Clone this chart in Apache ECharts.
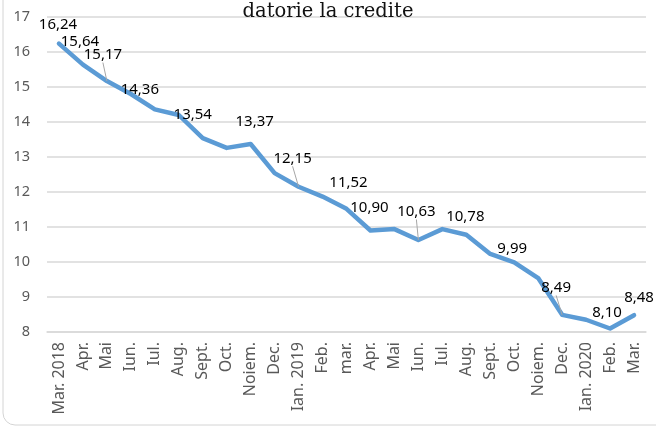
<!DOCTYPE html>
<html>
<head>
<meta charset="utf-8">
<script src="https://cdn.jsdelivr.net/npm/echarts@6/dist/echarts.min.js"></script>
<style>
html, body { margin: 0; padding: 0; background: #fff; }
#chart { width: 656px; height: 428px; }
</style>
</head>
<body>
<div id="chart"></div>
<script>
// luni (axa X)
const months = ['Mar. 2018', 'Apr.', 'Mai', 'Iun.', 'Iul.', 'Aug.', 'Sept.', 'Oct.', 'Noiem.', 'Dec.',
    'Ian. 2019', 'Feb.', 'mar.', 'Apr.', 'Mai', 'Iun.', 'Iul.', 'Aug.', 'Sept.', 'Oct.', 'Noiem.', 'Dec.',
    'Ian. 2020', 'Feb.', 'Mar.'];
// valori
const values = [16.24, 15.64, 15.17, 14.80, 14.36, 14.20, 13.54, 13.26, 13.37, 12.54,
    12.15, 11.87, 11.52, 10.90, 10.94, 10.63, 10.94, 10.78, 10.23, 9.99, 9.54, 8.49,
    8.35, 8.10, 8.48];
// etichete afisate (index -> deplasare eticheta)
const labelOffsets = {
    0: [-1, -19], 1: [-3, -23], 2: [-4, -26], 4: [-15, -20], 6: [-10, -23], 8: [4, -22],
    10: [-6, -28], 12: [2, -26], 13: [-1, -23], 15: [-2, -28], 17: [-1, -18], 19: [-2, -14],
    21: [-6, -27], 23: [-3, -16], 24: [5, -17]
};
// etichete cu linie de legatura
const withLeader = [2, 10, 15, 21];
const yTicks = [8, 17, 1]; // min, max, interval

const chart = echarts.init(document.getElementById('chart'));

const seriesData = values.map((v, i) => {
    const off = labelOffsets[i];
    if (!off) return v;
    const item = {
        value: v,
        label: { show: true, offset: off }
    };
    if (withLeader.indexOf(i) >= 0) {
        item.labelLine = { show: true, lineStyle: { color: '#a6a6a6', width: 1 } };
    }
    return item;
});

chart.setOption({
    animation: false,
    title: {
        text: 'datorie la credite',
        left: 323,
        top: -3,
        textAlign: 'center',
        textStyle: {
            fontFamily: 'DejaVu Serif',
            fontWeight: 'normal',
            fontSize: 19.5,
            color: '#111'
        }
    },
    graphic: [{
        type: 'rect',
        shape: { x: 3, y: -30, width: 700, height: 455, r: 12 },
        style: { fill: 'none', stroke: '#d4d4d4', lineWidth: 1 },
        silent: true
    }],
    grid: {
        left: 47,
        right: 10,
        top: 17,
        bottom: 96
    },
    xAxis: {
        type: 'category',
        data: months,
        boundaryGap: true,
        axisLine: { lineStyle: { color: '#d9d9d9', width: 1.5 } },
        axisTick: { show: false },
        axisLabel: {
            rotate: 90,
            interval: 0,
            margin: 10,
            color: '#595959',
            fontFamily: 'Noto Sans',
            fontSize: 16
        }
    },
    yAxis: {
        type: 'value',
        min: yTicks[0],
        max: yTicks[1],
        interval: yTicks[2],
        axisLine: { show: false },
        axisTick: { show: false },
        axisLabel: {
            margin: 17,
            color: '#595959',
            fontFamily: 'Noto Sans',
            fontSize: 14.5
        },
        splitLine: { lineStyle: { color: '#d9d9d9', width: 1.5 } }
    },
    series: [{
        type: 'line',
        data: seriesData,
        symbol: 'circle',
        symbolSize: 0,
        showSymbol: true,
        itemStyle: { color: '#5b9bd5' },
        lineStyle: { color: '#5b9bd5', width: 4.5, join: 'round', cap: 'round' },
        label: {
            show: false,
            position: 'inside',
            color: '#000',
            fontFamily: 'Noto Sans',
            fontSize: 15,
            formatter: p => p.value.toFixed(2).replace('.', ',')
        }
    }]
});
</script>
</body>
</html>
